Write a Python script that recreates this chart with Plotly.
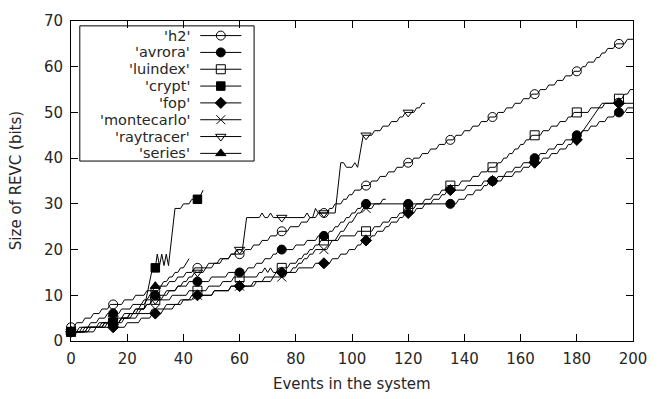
import numpy as np
import plotly.graph_objects as go

# ---------------- data ----------------
# Each series: start size, last event, and the events where the REVC size changes.
# plain number a  -> size grows by 1 between event a and a+1
# tuple (a, b, d) -> size changes by d between event a and event b
names = ["'h2'", "'avrora'", "'luindex'", "'crypt'", "'fop'",
         "'montecarlo'", "'raytracer'", "'series'"]

h2_start, h2_end = 3, 200
h2_rises = [1, 4, 7, 10, 13, 18, 22, 26, 31, 34, 37, 40, 43, 48, 52, 56, 61, 64, 67,
            70, 73, 77, 81, 84, 87, 91, 93, 96, 98, 100, 103, 106, 109, 112, 115,
            118, 121, 124, 127, 130, 133, 136, 139, 142, 145, 148, 151, 154, 157,
            160, 163, 166, 169, 172, 175, 178, 181, 183, 186, 188, 190, 193, 197]

avrora_start, avrora_end = 2, 200
avrora_rises = [2, 6, 9, 12, 17, 21, 25, 28, 33, 37, 41, 49, 55, 62, 65, 68, 71, 73,
                79, 83, 87, 91, 93, 95, 97, 99, 101, 103, 137, 140, 143, 146, 148,
                151, 154, 157, 160, 163, 166, 169, 172, 175, 178, 181, 184, 187, 190,
                193, 197]

luindex_start, luindex_end = 2, 200
luindex_rises = [5, 11, 17, 20, 23, 26, 28, 35, 41, 48, 53, 57, 66, 68, (69, 70, -1),
                 70, (71, 72, -1), 73, 77, 80, 82, 84, 86, 88, 95, 101, 107, 110, 113,
                 116, 118, 122, 125, 128, 131, 133, 138, 142, 145, 148, 151, 153, 155,
                 157, 159, 161, 163, 167, 170, 173, 176, 178, 184, 189, 193, 196, 198]

crypt_start, crypt_end = 2, 47
crypt_rises = [4, 10, 17, 21, 24, (26, 29, 9), (30, 30.7, 3), (30.7, 31.5, -2.5),
               (31.5, 32.3, 2.5), (32.3, 33.1, -2.5), (33.1, 33.9, 2.5), (33.9, 34.7, -2.5),
               (34.7, 37, 12.5), 39, 42, (45.5, 47, 2)]

fop_start, fop_end = 2, 200
fop_rises = [8, 19, 24, 28, 32, 36, 39, 43, 50, 56, 64, 68, 72, 80, 86, 92, 95, 98,
             101, 103, 106, 108, 111, 113, 116, 118, 122, 125, 128, 131, 133, 140, 146,
             153, 157, 160, 163, 167, 170, 173, 176, 178, (180, 189, 8)]

montecarlo_start, montecarlo_end = 2, 112
montecarlo_rises = [6, 12, 18, 23, 28, 33, 38, 42, 50, 56, 65, 71, 76, 78, 80, 82, 84,
                    86, 91, 92, 94, 95, 97, 98, 100, 101, 103, 107, 110]

raytracer_start, raytracer_end = 2, 126
raytracer_rises = [3, 9, 13, 18, 22, 26, 28, 32, 34, 37, 39, 41, 43, 47, 50, 53, 56, 58,
                   (61, 62.5, 7), (67, 68, 1), (68, 69, -1), (70, 71, 1), (71, 72, -1),
                   (83, 84, 1), (84, 85, -1), (86, 87, 2), (87, 88, -1), (94, 96, 11),
                   (97, 98, -1), (100, 101, 1), (101, 102, -1), (102, 104, 7),
                   107, 110, 113, 116, 118, 122, 124]

series_start, series_end = 2, 42
series_rises = [5, 11, 17, 20, 22, 24, 26, 27, 28, 29, 32, 34, 36, 38, 40, 41]

x_ticks = [0, 20, 40, 60, 80, 100, 120, 140, 160, 180, 200]
y_ticks = [0, 10, 20, 30, 40, 50, 60, 70]
point_interval = 15

symbols = ["circle-open", "circle", "square-open", "square", "diamond",
           "x-thin-open", "triangle-down-open", "triangle-up"]
sizes = [9, 9, 9, 8.5, 8.5, 9, 9, 9]

all_series = [
    (h2_start, h2_end, h2_rises),
    (avrora_start, avrora_end, avrora_rises),
    (luindex_start, luindex_end, luindex_rises),
    (crypt_start, crypt_end, crypt_rises),
    (fop_start, fop_end, fop_rises),
    (montecarlo_start, montecarlo_end, montecarlo_rises),
    (raytracer_start, raytracer_end, raytracer_rises),
    (series_start, series_end, series_rises),
]


def staircase(start, end, rises):
    xs, ys = [0], [start]
    y = start
    for r in rises:
        if isinstance(r, tuple):
            a, b, d = r
        else:
            a, b, d = r, r + 1, 1
        if a > xs[-1]:
            xs.append(a)
            ys.append(y)
        y += d
        xs.append(b)
        ys.append(y)
    if end > xs[-1]:
        xs.append(end)
        ys.append(y)
    return xs, ys


FONT = "DejaVu Sans"
TXT = "#262626"
fig = go.Figure()

for (start, end, rises), sym, sz in zip(all_series, symbols, sizes):
    xs, ys = staircase(start, end, rises)
    fig.add_trace(go.Scatter(x=xs, y=ys, mode="lines",
                             line=dict(color="black", width=1), showlegend=False,
                             hoverinfo="skip"))
    mx = list(range(0, end + 1, point_interval))
    my = list(np.interp(mx, xs, ys))
    fig.add_trace(go.Scatter(x=mx, y=my, mode="markers", cliponaxis=False,
                             marker=dict(symbol=sym, size=sz, color="black",
                                         line=dict(color="black", width=1)),
                             showlegend=False))

# ---- gnuplot-style key, placed on a pixel-coordinate overlay axis ----
key_top = 27
key_step = 17.3
for i, (name, sym, sz) in enumerate(zip(names, symbols, sizes)):
    yk = key_top + i * key_step
    fig.add_trace(go.Scatter(x=[203, 245], y=[yk, yk], mode="lines",
                             xaxis="x2", yaxis="y2",
                             line=dict(color="black", width=1), showlegend=False,
                             hoverinfo="skip"))
    fig.add_trace(go.Scatter(x=[224], y=[yk], mode="markers",
                             xaxis="x2", yaxis="y2", cliponaxis=False,
                             marker=dict(symbol=sym, size=sz, color="black",
                                         line=dict(color="black", width=1)),
                             showlegend=False, hoverinfo="skip"))
    fig.add_annotation(x=194, y=yk, xref="x2", yref="y2", text=name,
                       showarrow=False, xanchor="right", yanchor="middle",
                       borderpad=0,
                       font=dict(family=FONT, size=14.5, color=TXT))

fig.add_shape(type="rect", xref="x2", yref="y2", x0=80, x1=258, y0=17, y1=156,
              line=dict(color="black", width=1), fillcolor="rgba(0,0,0,0)")

axis_common = dict(showgrid=False, zeroline=False, showline=True, mirror="allticks",
                   linecolor="black", linewidth=1, ticks="inside", ticklen=7,
                   tickwidth=1, tickcolor="black", ticklabeloverflow="allow",
                   tickfont=dict(family=FONT, size=15, color=TXT))

fig.update_layout(
    width=659, height=399,
    margin=dict(l=71, r=14, t=12, b=58),
    paper_bgcolor="white", plot_bgcolor="white",
    showlegend=False,
    xaxis=dict(range=[0, 200], tickvals=x_ticks, ticklabelstandoff=4, **axis_common),
    yaxis=dict(range=[0, 70], tickvals=y_ticks, ticklabelstandoff=4, **axis_common),
    xaxis2=dict(range=[71, 645], overlaying="x", visible=False, fixedrange=True),
    yaxis2=dict(range=[341, 12], overlaying="y", visible=False, fixedrange=True),
)

fig.add_annotation(x=0.5, y=-0.134, xref="paper", yref="paper",
                   text="Events in the system", showarrow=False,
                   xanchor="center", yanchor="middle",
                   font=dict(family=FONT, size=15, color=TXT))
fig.add_annotation(x=-0.0976, y=0.5, xref="paper", yref="paper",
                   text="Size of REVC (bits)", showarrow=False, textangle=-90,
                   xanchor="center", yanchor="middle",
                   font=dict(family=FONT, size=15, color=TXT))

fig.write_html("out.html")
